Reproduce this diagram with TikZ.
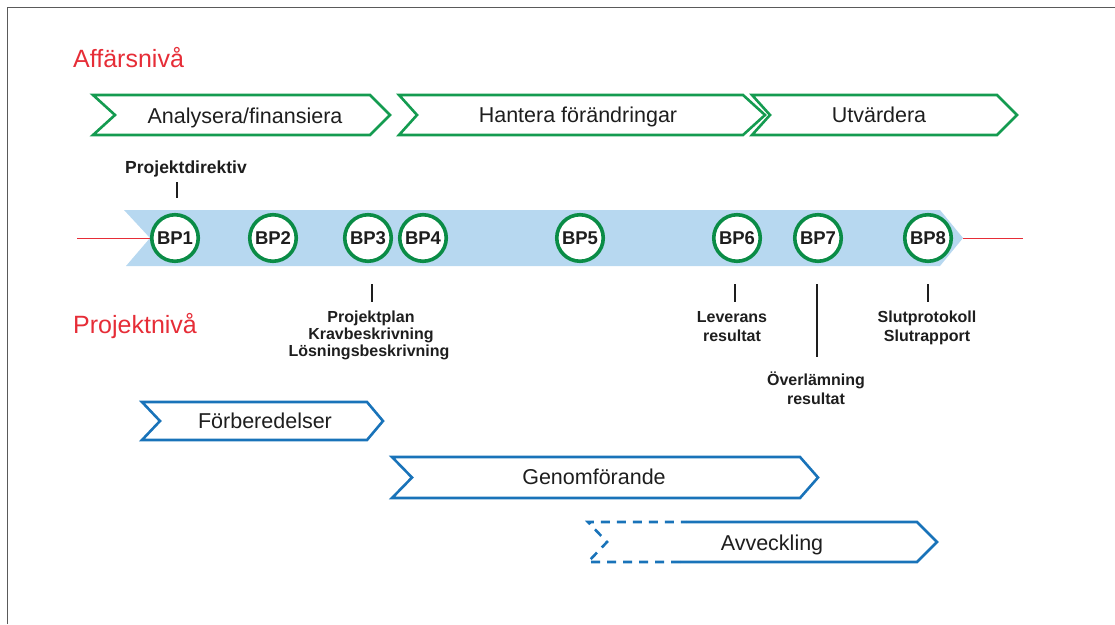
\documentclass[tikz,border=0pt]{standalone}
\usepackage{fontspec}
\setmainfont{Liberation Sans}
\definecolor{cgreen}{RGB}{20,155,80}
\definecolor{cgreen2}{RGB}{10,140,70}
\definecolor{cblue}{RGB}{25,115,185}
\definecolor{cband}{RGB}{183,216,240}
\definecolor{cred}{RGB}{230,45,55}
\definecolor{ctext}{RGB}{30,30,30}
\definecolor{framec}{RGB}{90,90,90}
\begin{document}
\begin{tikzpicture}[x=1pt,y=-1pt,
  gchev/.style={draw=cgreen,line width=2.6pt,line join=miter},
  bchev/.style={draw=cblue,line width=2.6pt,line join=miter},
  chevtxt/.style={font=\fontsize{21.5}{24}\selectfont,text=ctext,anchor=base,inner sep=0pt},
  bp/.style={circle,draw=cgreen2,line width=3.6pt,fill=white,minimum size=46.5pt,inner sep=0pt,text=ctext,font=\bfseries\fontsize{18.5}{20}\selectfont},
  lbl/.style={font=\bfseries\fontsize{16}{18}\selectfont,anchor=base,inner sep=0pt,text=ctext},
  tickline/.style={line width=1.6pt,draw=ctext},
  lvl/.style={font=\fontsize{25}{28}\selectfont,text=cred,anchor=base west,inner sep=0pt},
  redline/.style={draw=cred,line width=0.9pt}]
\useasboundingbox (0,0) rectangle (1115,624);
% frame
\draw[framec,line width=1.3pt] (7.5,624) -- (7.5,7.5) -- (1115,7.5);
% level titles
\node[lvl] (aff) at (73,67) {Affärsnivå};
\node[lvl] (proj) at (73,333) {Projektnivå};
% business chevrons
\draw[gchev] (93,95) -- (370,95) -- (390,115) -- (370,135) -- (93,135) -- (115,115) -- cycle;
\draw[gchev] (399,95) -- (743,95) -- (765,115) -- (743,135) -- (399,135) -- (417,115) -- cycle;
\draw[gchev] (752,95) -- (997,95) -- (1017,115) -- (997,135) -- (752,135) -- (770,115) -- cycle;
\node[chevtxt] (c1) at (245,123) {Analysera/finansiera};
\node[chevtxt] (c2) at (578,122) {Hantera förändringar};
\node[chevtxt] (c3) at (879,122) {Utvärdera};
% band
\fill[cband] (124,210) -- (940,210) -- (963,238) -- (940,266) -- (126,266) -- (150,238) -- cycle;
% red lines
\coordinate (rl) at (77,238);
\coordinate (rr1) at (963,238);
\coordinate (rr2) at (1023,238);
% BP circles
\node[bp] (bp1) at (175,238) {BP1};
\node[bp] (bp2) at (273,238) {BP2};
\node[bp] (bp3) at (368,238) {BP3};
\node[bp] (bp4) at (423,238) {BP4};
\node[bp] (bp5) at (580,238) {BP5};
\node[bp] (bp6) at (737,238) {BP6};
\node[bp] (bp7) at (818,238) {BP7};
\node[bp] (bp8) at (928,238) {BP8};
\draw[redline] (rl) -- (bp1.west);
\draw[redline] (rr1) -- (rr2);
% labels and ticks
\node[lbl,font=\bfseries\fontsize{17.5}{19}\selectfont] (pd) at (186,173) {Projektdirektiv};
\coordinate (t0a) at (177,182); \coordinate (t0b) at (177,198);
\draw[tickline] (t0a) -- (t0b);

\coordinate (t3a) at (372,284); \coordinate (t3b) at (372,302);
\draw[tickline] (t3a) -- (t3b);
\node[lbl] (pp1) at (371,322) {Projektplan};
\node[lbl] (pp2) at (371,339) {Kravbeskrivning};
\node[lbl] (pp3) at (369,356) {Lösningsbeskrivning};

\coordinate (t6a) at (735,284); \coordinate (t6b) at (735,302);
\draw[tickline] (t6a) -- (t6b);
\node[lbl] (lv1) at (732,322) {Leverans};
\node[lbl] (lv2) at (732,341) {resultat};

\coordinate (t7a) at (817,284); \coordinate (t7b) at (817,357);
\draw[tickline] (t7a) -- (t7b);
\node[lbl] (ov1) at (816,385) {Överlämning};
\node[lbl] (ov2) at (816,404) {resultat};

\coordinate (t8a) at (928,284); \coordinate (t8b) at (928,302);
\draw[tickline] (t8a) -- (t8b);
\node[lbl] (sl1) at (927,322) {Slutprotokoll};
\node[lbl] (sl2) at (927,341) {Slutrapport};
% project chevrons
\draw[bchev] (142,402) -- (367,402) -- (383,421) -- (367,440) -- (142,440) -- (160,421) -- cycle;
\draw[bchev] (392,457) -- (800,457) -- (818,477.5) -- (800,498) -- (392,498) -- (412,477.5) -- cycle;
\draw[bchev] (686,522) -- (917,522) -- (937,542) -- (917,562) -- (680,562);
\draw[bchev,dash pattern=on 9pt off 7pt] (680,562) -- (588,562) -- (607,542) -- (588,522) -- (686,522);
\node[chevtxt] (f1) at (265,428) {Förberedelser};
\node[chevtxt] (f2) at (594,484) {Genomförande};
\node[chevtxt] (f3) at (772,550) {Avveckling};
\end{tikzpicture}
\end{document}
